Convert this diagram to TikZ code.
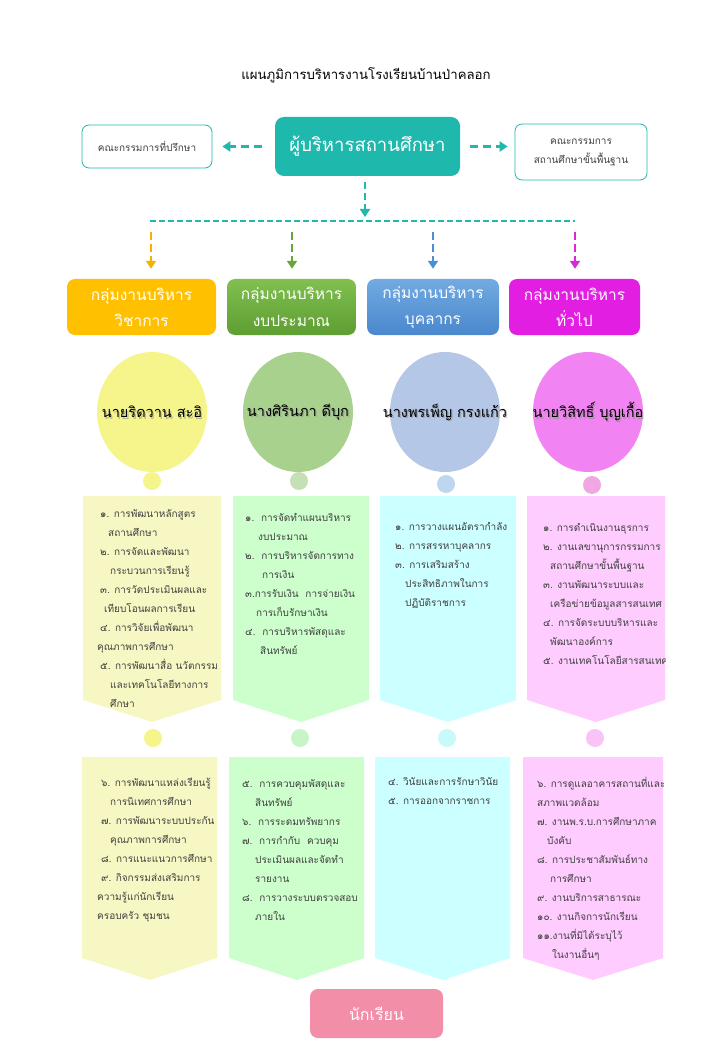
\documentclass[tikz,border=0pt]{standalone}
\usepackage{fontspec}
\setmainfont[Script=Thai]{Loma}
\usetikzlibrary{arrows.meta,shapes.geometric}
\definecolor{tealmain}{HTML}{1FB8AD}
\definecolor{bodytext}{HTML}{404040}
\definecolor{hdyellow}{HTML}{FFC000}
\definecolor{hdgreenA}{HTML}{80BF50}
\definecolor{hdgreenB}{HTML}{5E9E32}
\definecolor{hdblueA}{HTML}{72AAE2}
\definecolor{hdblueB}{HTML}{4A88CC}
\definecolor{hdmag}{HTML}{E21EE2}
\definecolor{arYellow}{HTML}{F2B200}
\definecolor{arGreen}{HTML}{6AA53A}
\definecolor{arBlue}{HTML}{4A8ED8}
\definecolor{arMag}{HTML}{D62AD6}
\definecolor{elYellow}{HTML}{F5F58C}
\definecolor{elGreen}{HTML}{A9D18E}
\definecolor{elBlue}{HTML}{B4C7E7}
\definecolor{elMag}{HTML}{F283F2}
\definecolor{dotGreen}{HTML}{C5E0B4}
\definecolor{dotBlue}{HTML}{BDD7EE}
\definecolor{dotMag}{HTML}{F2A6E2}
\definecolor{dotGreenB}{HTML}{C8F5C8}
\definecolor{dotBlueB}{HTML}{C8FAFA}
\definecolor{dotMagB}{HTML}{F8C4F8}
\definecolor{blkYellow}{HTML}{F7F7C4}
\definecolor{blkGreen}{HTML}{CCFFCC}
\definecolor{blkBlue}{HTML}{CCFFFF}
\definecolor{blkMag}{HTML}{FFCCFF}
\definecolor{student}{HTML}{F28EA8}
\definecolor{nameshadow}{HTML}{8A8A8A}
\newcommand{\ind}[1]{\hspace*{#1pt}}
\tikzset{
  tealarrow/.style={tealmain, line width=3pt, dash pattern=on 8pt off 5pt, -{Triangle[length=8pt,width=10pt]}},
  grparrow/.style={line width=2.5pt, dash pattern=on 8pt off 4pt, -{Triangle[length=8pt,width=10pt]}},
  sidebox/.style={draw=tealmain, line width=0.8pt, rounded corners=7pt, fill=white, text=bodytext, align=center, font=\fontsize{10}{19}\selectfont},
  header/.style={rounded corners=8pt, text=white, align=center, minimum height=56pt, inner sep=0pt, font=\fontsize{15.5}{26}\selectfont},
  namecirc/.style={ellipse, minimum width=110pt, minimum height=120pt, inner sep=0pt},
  nametext/.style={inner sep=0pt, text=black, font=\fontsize{14.5}{16}\selectfont},
  nameshad/.style={nametext, text=nameshadow, opacity=0.6},
  dot/.style={circle, minimum size=18pt, inner sep=0pt},
  itemtext/.style={anchor=north west, inner sep=0pt, align=left, text=bodytext, font=\fontsize{10}{19}\selectfont},
}
\begin{document}
\begin{tikzpicture}[x=1pt,y=-1pt]
\useasboundingbox (0,0) rectangle (720,1040);
\fill[white] (0,0) rectangle (720,1040);

% title
\node[font=\fontsize{13.2}{16}\selectfont, text=black] (title) at (366,75) {แผนภูมิการบริหารงานโรงเรียนบ้านป่าคลอก};

% top row
\node[fill=tealmain, rounded corners=9pt, minimum width=185pt, minimum height=59pt, text=white, font=\fontsize{18.5}{22}\selectfont] (main) at (367.5,146.5) {ผู้บริหารสถานศึกษา};
\node[sidebox, minimum width=130pt, minimum height=43pt] (adv) at (147,146.5) {คณะกรรมการที่ปรึกษา};
\node[sidebox, minimum width=132pt, minimum height=56pt] (basic) at (581,152) {คณะกรรมการ\\สถานศึกษาขั้นพื้นฐาน};

\draw[tealarrow, shorten <=13pt, shorten >=10pt] (main.west) -- (adv.east |- main.west);
\draw[tealarrow, shorten <=10pt, shorten >=7pt] (main.east) -- (basic.west |- main.east);

\coordinate (hubL) at (150,221);
\coordinate (hubR) at (575,221);
\coordinate (hub) at (365,221);
\draw[tealarrow, line width=2.5pt, dash pattern=on 7pt off 4pt, shorten <=6pt, shorten >=4pt] (main.south -| hub) -- (hub);
\draw[tealmain, line width=1.6pt, dash pattern=on 6pt off 3pt] (hubL) -- (hubR);

% headers
\node[header, fill=hdyellow, minimum width=149pt] (h1) at (141.5,307) {กลุ่มงานบริหาร\\วิชาการ};
\node[header, top color=hdgreenA, bottom color=hdgreenB, minimum width=129pt] (h2) at (291.5,307) {\raisebox{4pt}{\parbox{129pt}{\centering กลุ่มงานบริหาร\\[1pt]งบประมาณ}}};
\node[header, top color=hdblueA, bottom color=hdblueB, minimum width=132pt] (h3) at (433,307) {กลุ่มงานบริหาร\\บุคลากร};
\node[header, fill=hdmag, minimum width=131pt] (h4) at (574.5,307) {กลุ่มงานบริหาร\\ทั่วไป};

\coordinate (b1) at (151,221);
\coordinate (b2) at (292,221);
\coordinate (b3) at (433,221);
\coordinate (b4) at (575,221);
\draw[grparrow, arYellow, shorten <=11pt, shorten >=10pt] (b1) -- (b1 |- h1.north);
\draw[grparrow, arGreen, shorten <=11pt, shorten >=10pt] (b2) -- (b2 |- h2.north);
\draw[grparrow, arBlue, shorten <=11pt, shorten >=10pt] (b3) -- (b3 |- h3.north);
\draw[grparrow, arMag, shorten <=11pt, shorten >=10pt] (b4) -- (b4 |- h4.north);

% name ellipses
\node[namecirc, fill=elYellow] (n1) at (152,412) {};
\node[namecirc, fill=elGreen] (n2) at (298,412) {};
\node[namecirc, fill=elBlue] (n3) at (445,412) {};
\node[namecirc, fill=elMag] (n4) at (588,412) {};
\node[nameshad] (s1) at ([shift={(1.3,1.3)}]n1.center) {นายริดวาน สะอิ};
\node[nameshad] (s2) at ([shift={(1.3,1.3)}]n2.center) {นางศิรินภา ดีบุก};
\node[nameshad] (s3) at ([shift={(1.3,1.3)}]n3.center) {นางพรเพ็ญ กรงแก้ว};
\node[nameshad] (s4) at ([shift={(1.3,1.3)}]n4.center) {นายวิสิทธิ์ บุญเกื้อ};
\node[nametext] (m1) at (n1) {นายริดวาน สะอิ};
\node[nametext] (m2) at (n2) {นางศิรินภา ดีบุก};
\node[nametext] (m3) at (n3) {นางพรเพ็ญ กรงแก้ว};
\node[nametext] (m4) at (n4) {นายวิสิทธิ์ บุญเกื้อ};

% small dots row 1
\node[dot, fill=elYellow] (d1) at (152,481) {};
\node[dot, fill=dotGreen] (d2) at (299,481) {};
\node[dot, fill=dotBlue] (d3) at (446,484) {};
\node[dot, fill=dotMag] (d4) at (592,485) {};

% upper blocks (chevrons)
\fill[blkYellow] (83,496) -- (221,496) -- (221,700) -- (152,722) -- (83,700) -- cycle;
\fill[blkGreen] (233,496) -- (369,496) -- (369,700) -- (301,722) -- (233,700) -- cycle;
\fill[blkBlue] (380,496) -- (516,496) -- (516,700) -- (448,722) -- (380,700) -- cycle;
\fill[blkMag] (527,496) -- (665,496) -- (665,700) -- (596,722) -- (527,700) -- cycle;

% small dots row 2
\node[dot, fill=elYellow] (e1) at (153,738) {};
\node[dot, fill=dotGreenB] (e2) at (300,738) {};
\node[dot, fill=dotBlueB] (e3) at (447,738) {};
\node[dot, fill=dotMagB] (e4) at (595,738) {};

% lower blocks
\fill[blkYellow] (82,757) -- (217,757) -- (217,958) -- (150,980) -- (82,958) -- cycle;
\fill[blkGreen] (229,757) -- (364,757) -- (364,958) -- (297,980) -- (229,958) -- cycle;
\fill[blkBlue] (375,757) -- (510,757) -- (510,958) -- (443,980) -- (375,958) -- cycle;
\fill[blkMag] (523,757) -- (663,757) -- (663,958) -- (593,980) -- (523,958) -- cycle;

% texts upper
\node[itemtext] (t1) at (97,509) {%
\ind{3}๑. การพัฒนาหลักสูตร\\
\ind{11}สถานศึกษา\\
\ind{3}๒. การจัดและพัฒนา\\
\ind{13}กระบวนการเรียนรู้\\
\ind{3}๓. การวัดประเมินผลและ\\
\ind{7}เทียบโอนผลการเรียน\\
\ind{3}๔. การวิจัยเพื่อพัฒนา\\
คุณภาพการศึกษา\\
\ind{3}๕. การพัฒนาสื่อ นวัตกรรม\\
\ind{13}และเทคโนโลยีทางการ\\
\ind{13}ศึกษา};

\node[itemtext] (t2) at (245,513) {%
๑.\ \ การจัดทำแผนบริหาร\\
\ind{13}งบประมาณ\\
๒.\ \ การบริหารจัดการทาง\\
\ind{17}การเงิน\\
๓.การรับเงิน\ \ การจ่ายเงิน\\
\ind{11}การเก็บรักษาเงิน\\
๔.\ \ การบริหารพัสดุและ\\
\ind{15}สินทรัพย์};

\node[itemtext] (t3) at (395,522) {%
๑. การวางแผนอัตรากำลัง\\
๒. การสรรหาบุคลากร\\
๓. การเสริมสร้าง\\
\ind{10}ประสิทธิภาพในการ\\
\ind{10}ปฏิบัติราชการ};

\begin{scope}
\clip (527,496) rectangle (665,722);
\node[itemtext] (t4) at (543,523) {%
๑. การดำเนินงานธุรการ\\
๒. งานเลขานุการกรรมการ\\
\ind{7}สถานศึกษาขั้นพื้นฐาน\\
๓. งานพัฒนาระบบและ\\
\ind{7}เครือข่ายข้อมูลสารสนเทศ\\
๔. การจัดระบบบริหารและ\\
\ind{7}พัฒนาองค์การ\\
๕. งานเทคโนโลยีสารสนเทศ};
\end{scope}

% texts lower
\node[itemtext] (t5) at (97,778) {%
\ind{4}๖. การพัฒนาแหล่งเรียนรู้\\
\ind{13}การนิเทศการศึกษา\\
\ind{4}๗. การพัฒนาระบบประกัน\\
\ind{13}คุณภาพการศึกษา\\
\ind{4}๘. การแนะแนวการศึกษา\\
\ind{4}๙. กิจกรรมส่งเสริมการ\\
ความรู้แก่นักเรียน\\
ครอบครัว ชุมชน};

\node[itemtext] (t6) at (242,779) {%
๕.\ \ การควบคุมพัสดุและ\\
\ind{13}สินทรัพย์\\
๖.\ \ การระดมทรัพยากร\\
๗.\ \ การกำกับ\ \ ควบคุม\\
\ind{13}ประเมินผลและจัดทำ\\
\ind{13}รายงาน\\
๘.\ \ การวางระบบตรวจสอบ\\
\ind{13}ภายใน};

\node[itemtext] (t7) at (388,777) {%
๔. วินัยและการรักษาวินัย\\
๕. การออกจากราชการ};

\begin{scope}
\clip (523,757) rectangle (663,980);
\node[itemtext] (t8) at (537,777) {%
๖. การดูแลอาคารสถานที่และ\\
สภาพแวดล้อม\\
๗. งานพ.ร.บ.การศึกษาภาค\\
\ind{10}บังคับ\\
๘. การประชาสัมพันธ์ทาง\\
\ind{13}การศึกษา\\
๙. งานบริการสาธารณะ\\
๑๐. งานกิจการนักเรียน\\
๑๑.งานที่มิได้ระบุไว้\\
\ind{15}ในงานอื่นๆ};
\end{scope}

% student
\node[fill=student, rounded corners=8pt, minimum width=133pt, minimum height=49pt, text=white, font=\fontsize{16}{18}\selectfont] (stu) at (376.5,1013.5) {นักเรียน};
\end{tikzpicture}
\end{document}
